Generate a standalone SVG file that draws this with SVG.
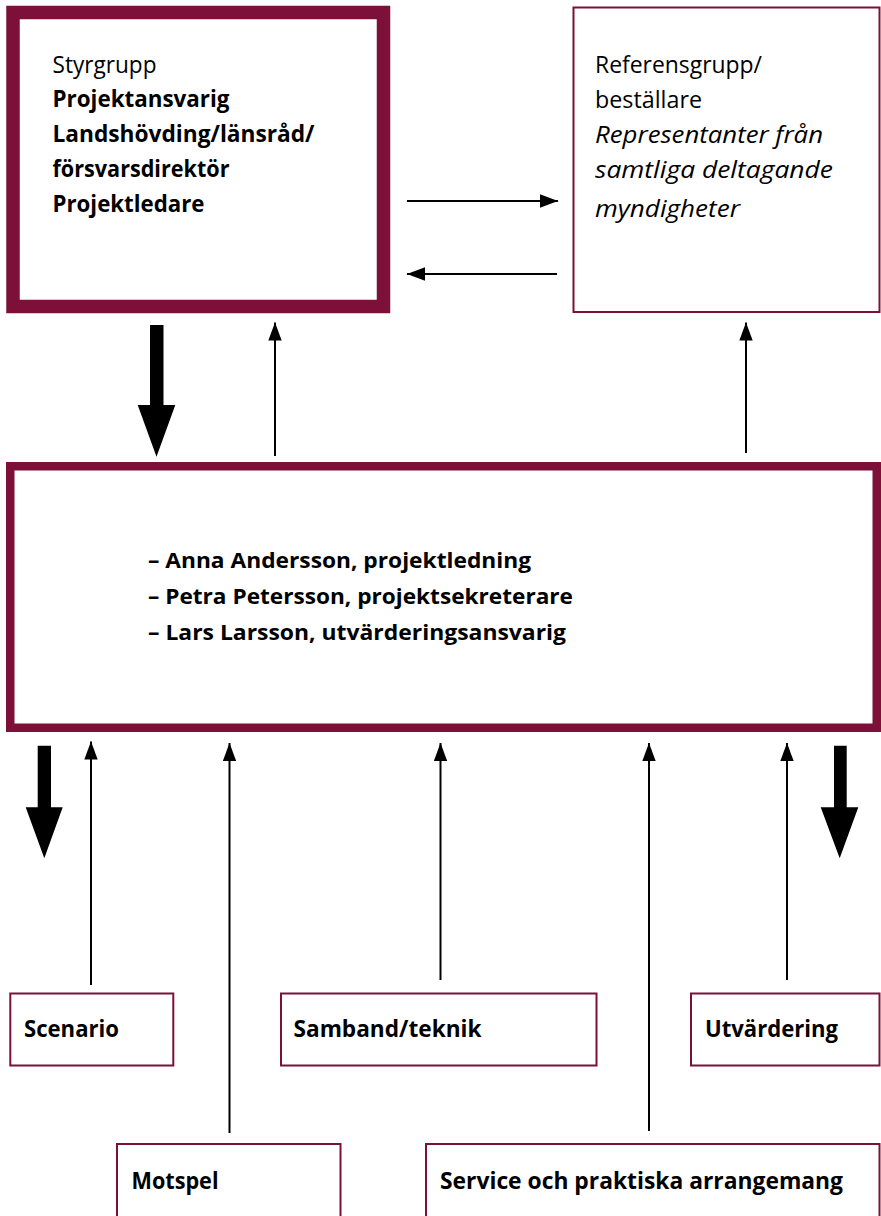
<svg xmlns="http://www.w3.org/2000/svg" width="881" height="1216" viewBox="0 0 881 1216">
<defs>
<style>
.box{fill:#fff;stroke:#7d1038}
.t{font-family:"Open Sans","Noto Sans","Liberation Sans",sans-serif;font-size:23px;fill:#000}
.b{font-weight:bold}
.i{font-style:italic}
.l{font-size:24px}
.c{font-family:"Open Sans","Noto Sans","Liberation Sans",sans-serif;font-size:21px;font-weight:bold;fill:#000}
.ln{stroke:#000;stroke-width:2;fill:none;marker-end:url(#ah)}
.thick{fill:#000}
</style>
<marker id="ah" markerUnits="userSpaceOnUse" markerWidth="18" markerHeight="14" refX="18" refY="7" orient="auto" viewBox="0 0 18 14">
<path d="M0,0.3 L18,7 L0,13.7 z" fill="#000"/>
</marker>
</defs>
<rect width="881" height="1216" fill="#fff"/>

<g id="styrgrupp">
<rect class="box" x="13" y="12.5" width="370.5" height="294" stroke-width="13.5"/>
<text class="t" x="52.5" y="73" textLength="104" lengthAdjust="spacingAndGlyphs">Styrgrupp</text>
<text class="t b" x="52.5" y="106.5" textLength="177" lengthAdjust="spacingAndGlyphs">Projektansvarig</text>
<text class="t b" x="52.5" y="141.5" textLength="262" lengthAdjust="spacingAndGlyphs">Landshövding/länsråd/</text>
<text class="t b" x="52.5" y="176.5" textLength="177" lengthAdjust="spacingAndGlyphs">försvarsdirektör</text>
<text class="t b" x="52.5" y="212" textLength="152" lengthAdjust="spacingAndGlyphs">Projektledare</text>
</g>

<g id="referensgrupp">
<rect class="box" x="573.5" y="7.5" width="306" height="304.5" stroke-width="2"/>
<text class="t" x="595" y="73" textLength="167" lengthAdjust="spacingAndGlyphs">Referensgrupp/</text>
<text class="t" x="595" y="108" textLength="107" lengthAdjust="spacingAndGlyphs">beställare</text>
<text class="t i" x="595" y="143" textLength="228" lengthAdjust="spacingAndGlyphs">Representanter från</text>
<text class="t i" x="595" y="178" textLength="238" lengthAdjust="spacingAndGlyphs">samtliga deltagande</text>
<text class="t i" x="595" y="216.5" textLength="145" lengthAdjust="spacingAndGlyphs">myndigheter</text>
</g>

<g id="projektgrupp">
<rect class="box" x="10.25" y="466.25" width="866.5" height="261.5" stroke-width="8.5"/>
<text class="c" x="148" y="568" textLength="383" lengthAdjust="spacingAndGlyphs">– Anna Andersson, projektledning</text>
<text class="c" x="148" y="604" textLength="425" lengthAdjust="spacingAndGlyphs">– Petra Petersson, projektsekreterare</text>
<text class="c" x="148" y="640" textLength="418" lengthAdjust="spacingAndGlyphs">– Lars Larsson, utvärderingsansvarig</text>
</g>

<g id="scenario">
<rect class="box" x="10.3" y="993.5" width="163" height="72" stroke-width="2"/>
<text class="t b l" x="24" y="1037" textLength="95" lengthAdjust="spacingAndGlyphs">Scenario</text>
</g>
<g id="samband">
<rect class="box" x="281" y="993.5" width="315.5" height="72" stroke-width="2"/>
<text class="t b l" x="293.5" y="1037" textLength="188" lengthAdjust="spacingAndGlyphs">Samband/teknik</text>
</g>
<g id="utvardering">
<rect class="box" x="691" y="993.5" width="188.5" height="72" stroke-width="2"/>
<text class="t b l" x="705" y="1037" textLength="133" lengthAdjust="spacingAndGlyphs">Utvärdering</text>
</g>
<g id="motspel">
<rect class="box" x="117" y="1144" width="223.5" height="100" stroke-width="2"/>
<text class="t b l" x="131.5" y="1189" textLength="87" lengthAdjust="spacingAndGlyphs">Motspel</text>
</g>
<g id="service">
<rect class="box" x="426" y="1144" width="453.5" height="100" stroke-width="2"/>
<text class="t b l" x="440" y="1189" textLength="403" lengthAdjust="spacingAndGlyphs">Service och praktiska arrangemang</text>
</g>

<g id="connectors">
<line class="ln" x1="407" y1="201" x2="558" y2="201"/>
<line class="ln" x1="557" y1="274" x2="407" y2="274"/>
<line class="ln" x1="275" y1="456" x2="275" y2="322.5"/>
<line class="ln" x1="746" y1="453" x2="746" y2="322.5"/>
<line class="ln" x1="91" y1="985" x2="91" y2="741.5"/>
<line class="ln" x1="229.5" y1="1133" x2="229.5" y2="743"/>
<line class="ln" x1="440.5" y1="980" x2="440.5" y2="743"/>
<line class="ln" x1="649" y1="1131" x2="649" y2="743"/>
<line class="ln" x1="787" y1="980" x2="787" y2="743"/>
<polygon class="thick" points="150,325 163.5,325 163.5,405 175.3,405 156.5,456.7 137.7,405 150,405"/>
<polygon class="thick" points="37.7,745.7 51,745.7 51,807.3 62.7,807.3 44.3,858.3 25.7,807.3 37.7,807.3"/>
<polygon class="thick" points="834,745.7 846.7,745.7 846.7,807.3 858.3,807.3 839.7,858.3 820.7,807.3 834,807.3"/>
</g>
</svg>
